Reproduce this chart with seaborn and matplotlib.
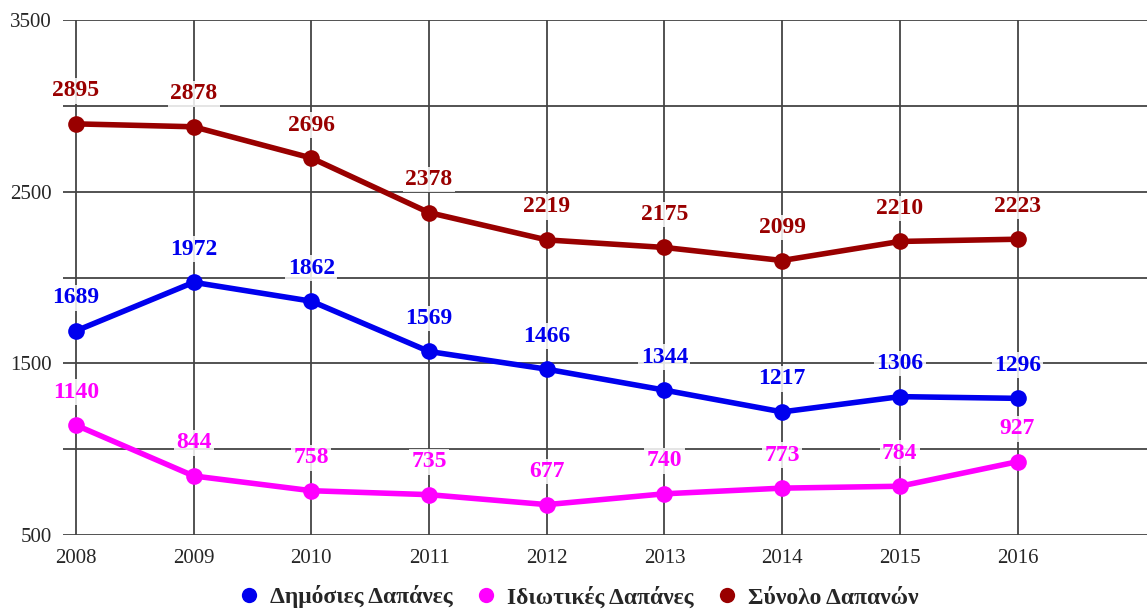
import matplotlib.pyplot as plt
from matplotlib.lines import Line2D
import seaborn as sns
import pandas as pd

years = [2008, 2009, 2010, 2011, 2012, 2013, 2014, 2015, 2016]
public = [1689, 1972, 1862, 1569, 1466, 1344, 1217, 1306, 1296]
private = [1140, 844, 758, 735, 677, 740, 773, 784, 927]
total = [2895, 2878, 2696, 2378, 2219, 2175, 2099, 2210, 2223]
series_names = ['Δημόσιες Δαπάνες', 'Ιδιωτικές Δαπάνες', 'Σύνολο Δαπανών']
colors = ['#0000ee', '#ff00ff', '#990000']

df = pd.DataFrame({
    'year': years * 3,
    'value': public + private + total,
    'series': [s for s in series_names for _ in years],
})

sns.set_style('white')
plt.rcParams['font.family'] = ['Liberation Serif', 'DejaVu Serif']

fig = plt.figure(figsize=(11.47, 6.09), dpi=100)
ax = fig.add_axes([63 / 1147, 1 - 535 / 609, 1 - 63 / 1147, (535 - 20) / 609])

palette = dict(zip(series_names, colors))
sns.lineplot(data=df, x='year', y='value', hue='series', palette=palette,
             marker='o', markersize=12, markeredgewidth=0, linewidth=4,
             legend=False, ax=ax, zorder=3)

# value labels, white box hides the grid behind the text
for name, vals in zip(series_names, [public, private, total]):
    for x, y in zip(years, vals):
        ax.annotate(str(y), (x, y), xytext=(0, 33), textcoords='offset pixels',
                    ha='center', va='center', fontsize=17, fontweight='bold',
                    color=palette[name], zorder=4,
                    bbox=dict(boxstyle='square,pad=0.1', fc='white', ec='none', alpha=0.85))

ax.set_xlim(2007.89, 2017.1)
ax.set_ylim(500, 3500)
ax.set_xticks(years)
ax.set_xticklabels([str(y) for y in years], fontsize=15)
ax.set_yticks([500, 1000, 1500, 2000, 2500, 3000, 3500])
ax.set_yticklabels(['500', '', '1500', '', '2500', '', '3500'], fontsize=15)
ax.tick_params(axis='both', length=0, pad=10)
ax.tick_params(axis='y', pad=8)
ax.grid(True, color='#444444', linewidth=1.3, zorder=0)
ax.set_axisbelow(True)
ax.set_xlabel('')
ax.set_ylabel('')
for side in ['left', 'right', 'top', 'bottom']:
    ax.spines[side].set_visible(False)

handles = [Line2D([0], [0], marker='o', color='none', markerfacecolor=c,
                  markeredgewidth=0, markersize=11) for c in colors]
fig.legend(handles, series_names, loc='center', bbox_to_anchor=(0.504, 1 - 597 / 609),
           ncol=3, frameon=False, handlelength=1.0, handletextpad=0.4,
           columnspacing=0.9, prop={'size': 17, 'weight': 'bold'})

fig.savefig('out.png', dpi=100)
